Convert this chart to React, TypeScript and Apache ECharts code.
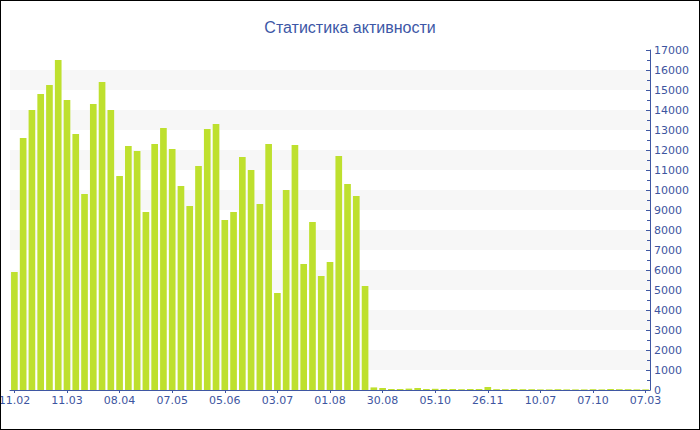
import React, { useEffect, useRef } from "react";
import * as echarts from "echarts";

const title = "Статистика активности";

const dates: string[] = [
  "11.02", "16.02", "21.02", "25.02", "01.03", "06.03",
  "11.03", "15.03", "20.03", "25.03", "30.03", "03.04",
  "08.04", "13.04", "18.04", "22.04", "27.04", "02.05",
  "07.05", "12.05", "17.05", "21.05", "26.05", "31.05",
  "05.06", "10.06", "14.06", "19.06", "24.06", "28.06",
  "03.07", "08.07", "13.07", "17.07", "22.07", "27.07",
  "01.08", "06.08", "10.08", "15.08", "20.08", "25.08",
  "30.08", "06.09", "12.09", "18.09", "24.09", "30.09",
  "05.10", "14.10", "22.10", "31.10", "09.11", "17.11",
  "26.11", "15.12", "20.01", "28.02", "15.04", "30.05",
  "10.07", "25.07", "09.08", "24.08", "07.09", "22.09",
  "07.10", "01.11", "26.11 ", "21.12", "15.01", "10.02",
  "07.03",
];

const activity: number[] = [
  5900, 12600, 14000, 14800, 15250, 16500, 14500, 12800, 9800, 14300,
  15400, 14000, 10700, 12200, 11950, 8900, 12300, 13100, 12050, 10200,
  9200, 11200, 13050, 13300, 8500, 8900, 11650, 11000, 9300, 12300,
  4850, 10000, 12250, 6300, 8400, 5700, 6400, 11700, 10300, 9700,
  5200, 130, 100, 50, 50, 70, 100, 50, 60, 50,
  50, 40, 50, 50, 150, 40, 40, 50, 40, 40,
  30, 30, 40, 30, 30, 30, 40, 30, 50, 40,
  40, 30, 30,
];

const yMin = 0;
const yMax = 17000;
const yStep = 1000;

const BLUE = "#3f57a3";
const TEXT = "#3d55a0";
const FONT = "DejaVu Sans";

export default function App() {
  const ref = useRef<HTMLDivElement>(null);

  useEffect(() => {
    if (!ref.current) return;
    const chart = echarts.init(ref.current, null, { renderer: "svg" });
    chart.setOption({
      animation: false,
      backgroundColor: "#ffffff",
      title: {
        text: title,
        left: "center",
        top: 13,
        textStyle: {
          fontFamily: "Liberation Sans",
          fontSize: 16,
          fontWeight: "normal",
          color: "#3d57a6",
        },
      },
      grid: {
        left: 9,
        right: 49,
        top: 49,
        bottom: 39,
        containLabel: false,
        outerBoundsMode: "none",
      },
      xAxis: {
        type: "category",
        data: dates,
        boundaryGap: true,
        axisLine: { show: true, lineStyle: { color: BLUE, width: 1 } },
        axisTick: { show: true, alignWithLabel: true, interval: 5, length: 3, lineStyle: { color: BLUE } },
        axisLabel: {
          interval: 5,
          margin: 5,
          color: TEXT,
          fontFamily: FONT,
          fontSize: 11,
          hideOverlap: false,
          formatter: (v: string) => v.trim(),
        },
        splitLine: { show: false },
      },
      yAxis: {
        type: "value",
        position: "right",
        min: yMin,
        max: yMax,
        interval: yStep,
        axisLine: { show: true, lineStyle: { color: BLUE, width: 1 } },
        axisTick: { show: true, inside: true, length: 4, lineStyle: { color: BLUE } },
        minorTick: { show: true, splitNumber: 2, length: 3, lineStyle: { color: BLUE } },
        axisLabel: {
          margin: 4,
          color: TEXT,
          fontFamily: FONT,
          fontSize: 11,
          formatter: (v: number) => String(v),
        },
        splitLine: { show: false },
        splitArea: { show: true, areaStyle: { color: ["#ffffff", "#f7f7f7"] } },
      },
      series: [
        {
          type: "bar",
          data: activity,
          barWidth: "76%",
          itemStyle: { color: "#bee02e" },
        },
      ],
    });
    return () => chart.dispose();
  }, []);

  return (
    <div
      style={{
        position: "fixed",
        left: 0,
        top: 0,
        width: 700,
        height: 430,
        border: "1px solid #000",
        boxSizing: "border-box",
        background: "#fff",
      }}
    >
      <div ref={ref} style={{ width: 698, height: 428 }} />
    </div>
  );
}
